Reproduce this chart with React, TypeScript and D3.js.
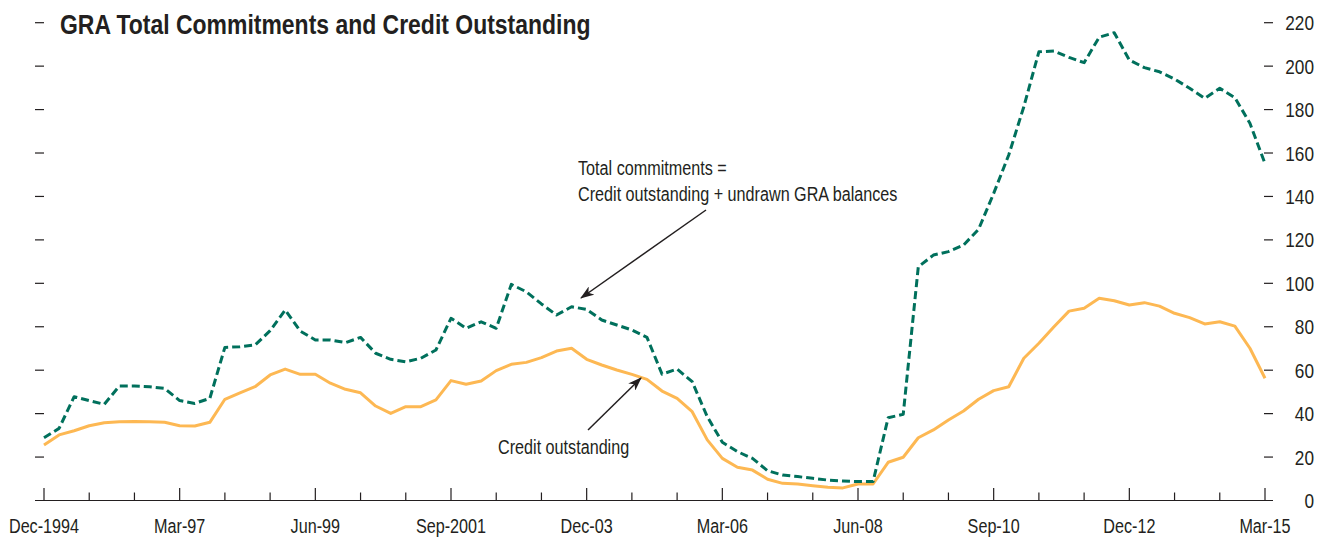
import React from "react";
import * as d3 from "d3";

// Quarterly observations, Dec-1994 (index 0) to Mar-2015 (index 81), SDR billions
const totalCommitments = [
  28.9, 33.2, 47.8, 46.0, 44.3, 52.7, 52.7, 52.4, 51.6, 46.0,
  44.7, 47.0, 70.5, 70.8, 71.6, 78.2, 87.7, 78.0, 73.9, 73.9,
  72.7, 75.1, 67.8, 65.0, 63.9, 65.5, 69.3, 83.9, 79.3, 82.3,
  79.3, 99.5, 96.1, 90.5, 85.4, 89.2, 88.0, 83.1, 80.8, 78.5,
  75.1, 58.2, 60.5, 54.7, 38.6, 26.8, 22.5, 19.4, 13.7, 11.7,
  11.0, 10.2, 9.4, 9.0, 8.7, 8.7, 38.1, 39.7, 107.6, 113.0,
  114.6, 117.6, 124.9, 141.4, 159.1, 181.3, 206.6, 207.0, 204.0, 201.6,
  213.3, 215.4, 202.8, 199.3, 197.4, 194.1, 189.8, 185.2, 189.8, 185.5,
  173.7, 155.2,
];

const creditOutstanding = [
  25.6, 30.2, 32.1, 34.4, 35.8, 36.3, 36.4, 36.3, 36.0, 34.4,
  34.3, 36.0, 46.6, 49.6, 52.4, 57.8, 60.5, 58.1, 58.1, 54.0,
  51.2, 49.6, 43.5, 40.1, 43.2, 43.2, 46.3, 55.2, 53.5, 55.0,
  59.8, 62.7, 63.6, 65.8, 68.8, 70.1, 65.0, 62.4, 60.1, 58.1,
  55.8, 50.4, 47.0, 40.9, 27.9, 19.4, 15.3, 14.0, 9.8, 7.9,
  7.6, 6.8, 6.1, 5.8, 7.6, 7.6, 17.6, 19.9, 28.9, 32.5,
  37.1, 41.2, 46.6, 50.6, 52.4, 65.5, 72.4, 80.0, 87.2, 88.5,
  93.1, 92.0, 90.0, 91.1, 89.5, 86.2, 84.2, 81.3, 82.3, 80.3,
  70.1, 56.3,
];

const xTickLabels = [
  "Dec-1994", "Mar-97", "Jun-99", "Sep-2001", "Dec-03",
  "Mar-06", "Jun-08", "Sep-10", "Dec-12", "Mar-15",
];

const yTicks = [0, 20, 40, 60, 80, 100, 120, 140, 160, 180, 200, 220];

const W = 1321;
const H = 538;
const FONT = "'Liberation Sans Narrow', 'Liberation Sans', 'Noto Sans', sans-serif";
const GREEN = "#00705c";
const ORANGE = "#fdb853";
const TEXT = "#231f20";

function Txt(props: {
  x: number;
  y: number;
  s?: number;
  size?: number;
  anchor?: "start" | "middle" | "end";
  bold?: boolean;
  children: React.ReactNode;
}) {
  const { x, y, s = 0.77, size = 21, anchor = "start", bold = false, children } = props;
  return (
    <text
      transform={`translate(${x},${y}) scale(${s},1)`}
      fontSize={size}
      fontWeight={bold ? "bold" : "normal"}
      textAnchor={anchor}
      fill={TEXT}
    >
      {children}
    </text>
  );
}

export default function App() {
  const n = totalCommitments.length;
  const x = d3.scaleLinear().domain([0, n - 1]).range([44, 1265]);
  const y = d3.scaleLinear().domain([0, 220]).range([500.5, 22.7]);

  const line = d3
    .line<number>()
    .x((_, i) => x(i))
    .y((d) => y(d));

  const minorTicks = d3.range(0, n, 3);
  const majorTicks = d3.range(0, n, 9);

  return (
    <svg
      width={W}
      height={H}
      style={{ position: "absolute", left: 0, top: 0, background: "#fff" }}
      fontFamily={FONT}
    >
      <defs>
        <marker
          id="arrow"
          viewBox="0 0 14 10"
          refX="13"
          refY="5"
          markerWidth="14"
          markerHeight="10"
          markerUnits="userSpaceOnUse"
          orient="auto"
        >
          <path d="M0,0 L14,5 L0,10 L4,5 Z" fill={TEXT} />
        </marker>
      </defs>

      {/* Title */}
      <Txt x={60} y={34} size={28} s={0.82} bold>
        GRA Total Commitments and Credit Outstanding
      </Txt>

      {/* Left ticks */}
      {yTicks.slice(1).map((t) => (
        <line key={"l" + t} x1={35} x2={44} y1={y(t)} y2={y(t)} stroke={TEXT} strokeWidth={1.2} />
      ))}
      {/* Right ticks and labels */}
      {yTicks.map((t) => (
        <g key={"r" + t}>
          {t > 0 && (
            <line x1={1264} x2={1273} y1={y(t)} y2={y(t)} stroke={TEXT} strokeWidth={1.2} />
          )}
          <Txt x={1314} y={y(t) + 7.5} s={0.82} anchor="end">
            {t}
          </Txt>
        </g>
      ))}

      {/* X axis */}
      <line x1={35} x2={1273} y1={y(0)} y2={y(0)} stroke={TEXT} strokeWidth={1.2} />
      {minorTicks.map((i) => (
        <line
          key={"t" + i}
          x1={x(i)}
          x2={x(i)}
          y1={y(0)}
          y2={y(0) - (i % 9 === 0 ? 12.5 : 8)}
          stroke={TEXT}
          strokeWidth={1.2}
        />
      ))}
      {majorTicks.map((i, k) => (
        <Txt key={"xl" + i} x={x(i)} y={533} anchor="middle">
          {xTickLabels[k]}
        </Txt>
      ))}

      {/* Series */}
      <path d={line(creditOutstanding) || ""} fill="none" stroke={ORANGE} strokeWidth={3} strokeLinejoin="round" />
      <path
        d={line(totalCommitments) || ""}
        fill="none"
        stroke={GREEN}
        strokeWidth={3}
        strokeDasharray="8 4"
        strokeLinejoin="round"
      />

      {/* Annotations */}
      <Txt x={578} y={175}>Total commitments =</Txt>
      <Txt x={578} y={201}>Credit outstanding + undrawn GRA balances</Txt>
      <line x1={706} y1={210} x2={581} y2={298} stroke={TEXT} strokeWidth={1.5} markerEnd="url(#arrow)" />

      <Txt x={498} y={454}>Credit outstanding</Txt>
      <line x1={588} y1={430} x2={641} y2={378} stroke={TEXT} strokeWidth={1.5} markerEnd="url(#arrow)" />
    </svg>
  );
}
